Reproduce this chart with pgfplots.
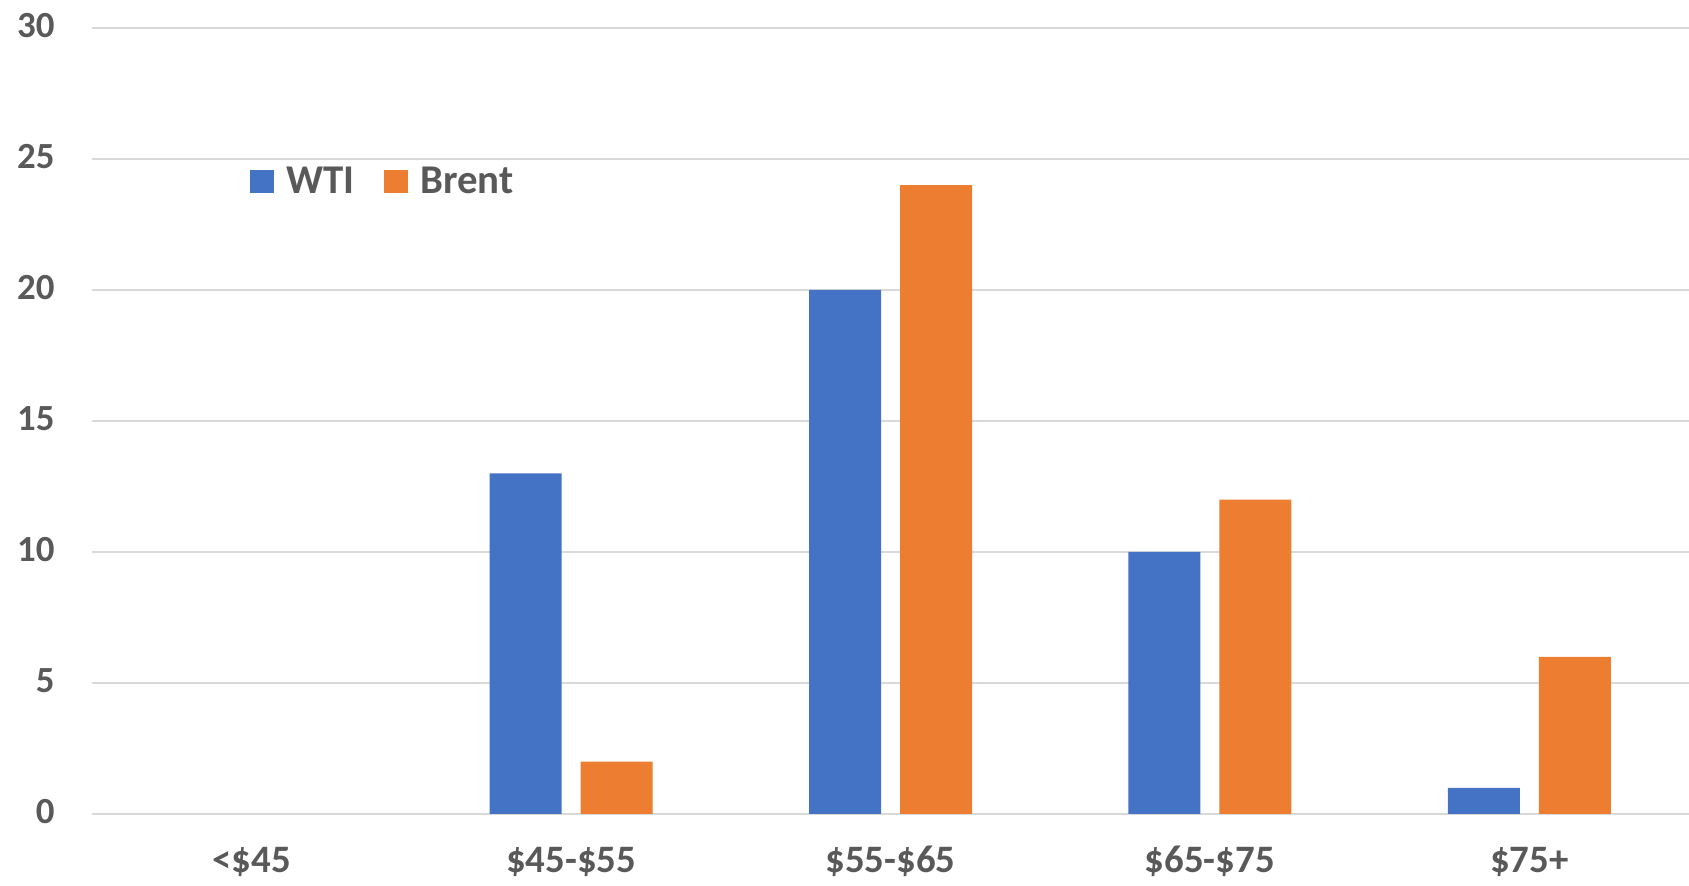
\documentclass[border=0pt]{standalone}
\usepackage{fontspec}
\setmainfont{Carlito}
\usepackage{pgfplots}
\pgfplotsset{compat=1.18}
\definecolor{wti}{HTML}{4472C4}
\definecolor{brent}{HTML}{ED7D31}
\definecolor{txt}{HTML}{595959}
\definecolor{grd}{HTML}{D9D9D9}
\begin{document}
\begin{tikzpicture}
\begin{axis}[
  scale only axis,
  width=798.5bp, height=393bp,
  xmin=-0.5, xmax=4.5,
  ymin=0, ymax=30,
  ytick={0,5,...,30},
  xtick={0,1,2,3,4},
  xticklabels={<\$45,\$45-\$55,\$55-\$65,\$65-\$75,\$75+},
  major tick length=0pt,
  axis line style={draw=none},
  ymajorgrids,
  grid style={grd, line width=0.6bp},
  /pgf/number format/assume math mode=true,
  yticklabel style={font=\bfseries\fontsize{18.5}{18.5}\selectfont, text=txt, anchor=base east, inner sep=0pt, xshift=-18.5bp, yshift=-4.75bp},
  xticklabel style={font=\bfseries\fontsize{19.5}{19.5}\selectfont, text=txt, anchor=base, inner sep=0pt, yshift=-29.5bp},
  ybar=9.5bp,
  bar width=36bp,
  legend columns=2,
  legend style={at={(rel axis cs:0.0989,0.8047)}, anchor=west, draw=none, fill=none, inner sep=0pt,
    font=\bfseries\fontsize{20.5}{20.5}\selectfont, text=txt,
    column sep=6bp,
    nodes={inner sep=0pt},
    /tikz/every even column/.append style={column sep=15bp}},
  legend image code/.code={\fill[#1] (0bp,-5.75bp) rectangle (12bp,5.75bp);},
  clip=false,
]
\addplot[fill=wti, draw=none] coordinates {(1,13) (2,20) (3,10) (4,1)};
\addplot[fill=brent, draw=none] coordinates {(1,2) (2,24) (3,12) (4,6)};
\legend{WTI,Brent}
\coordinate (ll) at (rel axis cs:0,0);
\coordinate (ur) at (rel axis cs:1,1);
\end{axis}
\pgfresetboundingbox
\path[use as bounding box] ([shift={(-46bp,-36bp)}]ll) rectangle ([shift={(0bp,14bp)}]ur);
\end{tikzpicture}
\end{document}
